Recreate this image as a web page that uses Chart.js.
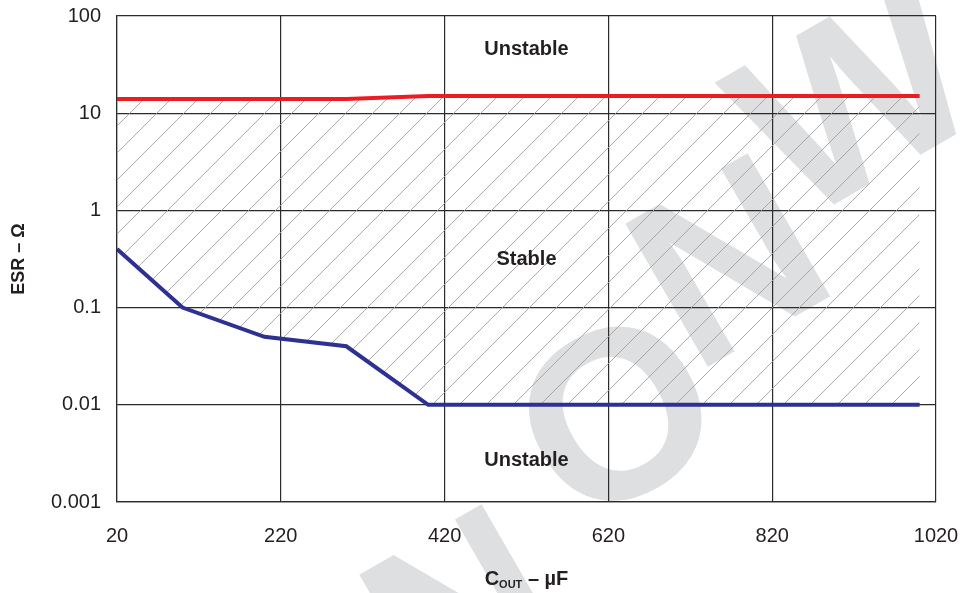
<!DOCTYPE html>
<html>
<head>
<meta charset="utf-8">
<script src="https://cdn.jsdelivr.net/npm/chart.js@4/dist/chart.umd.min.js"></script>
<style>
  html, body { margin: 0; padding: 0; background: #fff; }
  #wrap { width: 966px; height: 593px; }
</style>
</head>
<body>
<div id="wrap"><canvas id="esr"></canvas></div>
<script>
// ESR vs output capacitance — stability region
const X_TICKS = [20, 220, 420, 620, 820, 1020];
const Y_TICKS = [0.001, 0.01, 0.1, 1, 10, 100];
const Y_TICK_LABELS = ['0.001', '0.01', '0.1', '1', '10', '100'];

// upper boundary (red)
const UPPER_COUT = [20, 300, 400, 1000];
const UPPER_ESR  = [14, 14, 15, 15];

// lower boundary (blue)
const LOWER_COUT = [20, 100, 200, 300, 400, 1000];
const LOWER_ESR  = [0.4, 0.1, 0.05, 0.04, 0.01, 0.01];

// region labels
const REGION_TEXT = ['Unstable', 'Stable', 'Unstable'];
const REGION_AT   = [[520, 45], [520, 0.31], [520, 0.0027]];

const RED  = '#ec1c24';
const BLUE = '#2e3192';
const GRID = '#2b2b2b';
const FONT = "'Liberation Sans', Arial, Helvetica, sans-serif";

// diagonal hatch for the stable band
function makeHatch() {
  const s = 27;
  const tile = document.createElement('canvas');
  tile.width = s; tile.height = s;
  const t = tile.getContext('2d');
  t.strokeStyle = '#a0a0a0';
  t.lineWidth = 0.9;
  t.beginPath();
  t.moveTo(0, s); t.lineTo(s, 0);
  t.moveTo(-2, 2); t.lineTo(2, -2);
  t.moveTo(s - 2, s + 2); t.lineTo(s + 2, s - 2);
  t.stroke();
  return t.createPattern(tile, 'repeat');
}

const pts = (xs, ys) => xs.map((x, i) => ({ x, y: ys[i] }));

// faint page watermark, letters placed one by one
const WATERMARK = [['N', 470, 625], ['O', 624, 428], ['N', 736, 274], ['W', 862, 112]];

const backdrop = {
  id: 'backdrop',
  beforeDraw(chart) {
    const ctx = chart.ctx;
    ctx.save();
    ctx.fillStyle = '#fff';
    ctx.fillRect(0, 0, chart.width, chart.height);
    ctx.fillStyle = '#dedfe0';
    ctx.font = 'bold 240px ' + FONT;
    ctx.textAlign = 'center';
    ctx.textBaseline = 'middle';
    WATERMARK.forEach(([ch, x, y]) => {
      ctx.save();
      ctx.translate(x, y);
      ctx.rotate(-30 * Math.PI / 180);
      ctx.fillText(ch, 0, 0);
      ctx.restore();
    });
    ctx.restore();
  },
};

const labels = {
  id: 'labels',
  afterDraw(chart) {
    const ctx = chart.ctx;
    const xs = chart.scales.x, ys = chart.scales.y;
    ctx.save();
    ctx.fillStyle = '#231f20';
    ctx.textAlign = 'center';
    ctx.textBaseline = 'middle';
    ctx.font = 'bold 20px ' + FONT;
    REGION_TEXT.forEach((txt, i) => {
      ctx.fillText(txt, xs.getPixelForValue(REGION_AT[i][0]), ys.getPixelForValue(REGION_AT[i][1]));
    });

    // x title with subscript
    const big = 'bold 20px ' + FONT, small = 'bold 11px ' + FONT;
    ctx.font = big; const wC = ctx.measureText('C').width;
    const wRest = ctx.measureText(' – µF').width;
    ctx.font = small; const wSub = ctx.measureText('OUT').width;
    const total = wC + wSub + wRest;
    let x = (xs.left + xs.right) / 2 - total / 2;
    const y = 578;
    ctx.textAlign = 'left';
    ctx.textBaseline = 'alphabetic';
    ctx.font = big; ctx.fillText('C', x, y + 7); x += wC;
    ctx.font = small; ctx.fillText('OUT', x, y + 10); x += wSub;
    ctx.font = big; ctx.fillText(' – µF', x, y + 7);
    ctx.restore();
  },
};

new Chart(document.getElementById('esr'), {
  type: 'line',
  data: {
    datasets: [
      {
        label: 'Upper ESR limit',
        data: pts(UPPER_COUT, UPPER_ESR),
        borderColor: RED,
        borderWidth: 4,
        pointRadius: 0,
        tension: 0,
        fill: false,
      },
      {
        label: 'Lower ESR limit',
        data: pts(LOWER_COUT, LOWER_ESR),
        borderColor: BLUE,
        borderWidth: 4,
        pointRadius: 0,
        tension: 0,
        fill: { target: 0 },
        backgroundColor: makeHatch(),
      },
    ],
  },
  options: {
    responsive: true,
    maintainAspectRatio: false,
    animation: false,
    layout: { padding: { left: 0, right: 30, top: 16, bottom: 0 } },
    plugins: {
      legend: { display: false },
      tooltip: { enabled: false },
    },
    scales: {
      x: {
        type: 'linear',
        min: 20,
        max: 1020,
        afterBuildTicks: (s) => { s.ticks = X_TICKS.map((v) => ({ value: v })); },
        afterFit: (s) => { s.height = 91; s.paddingLeft = 0; s.paddingRight = 0; },
        grid: { color: GRID, lineWidth: 1.2, drawTicks: false },
        border: { color: GRID, width: 1.2 },
        ticks: {
          color: '#231f20',
          font: { family: FONT, size: 20 },
          padding: 22,
          maxRotation: 0,
          callback: (v) => String(v),
        },
      },
      y: {
        type: 'logarithmic',
        min: 0.001,
        max: 100,
        afterBuildTicks: (s) => { s.ticks = Y_TICKS.map((v) => ({ value: v })); },
        afterFit: (s) => { s.width = 117; s.paddingTop = 0; s.paddingBottom = 0; },
        grid: { color: GRID, lineWidth: 1.2, drawTicks: false },
        border: { color: GRID, width: 1.2 },
        ticks: {
          color: '#231f20',
          font: { family: FONT, size: 20 },
          padding: 16,
          callback: (v) => {
            const i = Y_TICKS.findIndex((t) => Math.abs(t - v) / t < 1e-6);
            return i >= 0 ? Y_TICK_LABELS[i] : '';
          },
        },
        title: {
          display: true,
          text: 'ESR – Ω',
          color: '#231f20',
          font: { family: FONT, size: 18, weight: 'bold' },
          padding: { top: 8, bottom: 0 },
        },
      },
    },
  },
  plugins: [backdrop, labels],
});
</script>
</body>
</html>
